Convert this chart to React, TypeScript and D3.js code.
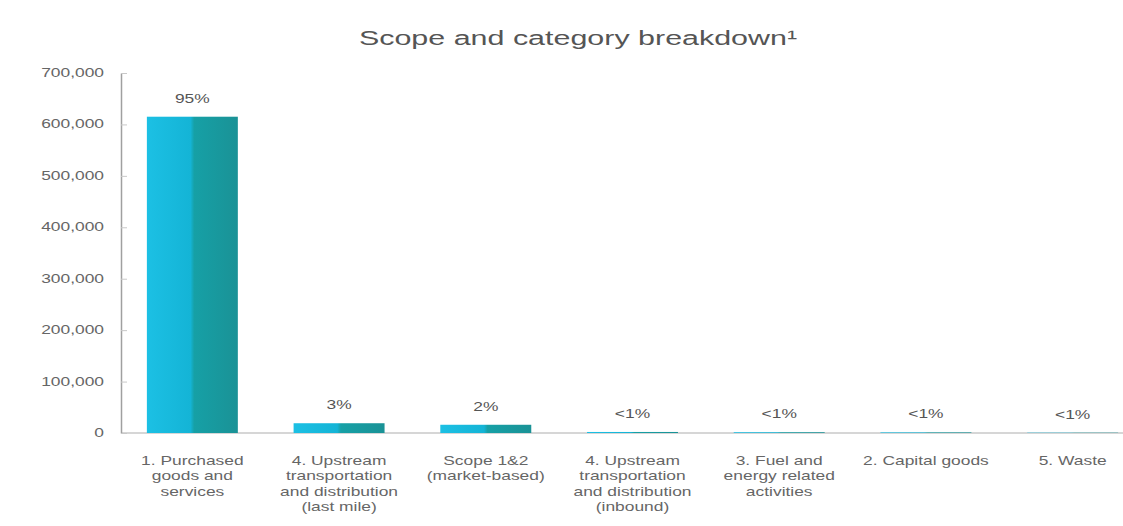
import { useEffect, useRef } from 'react'
import * as d3 from 'd3'

const categories = [
  '1. Purchased goods and services',
  '4. Upstream transportation and distribution (last mile)',
  'Scope 1&2 (market-based)',
  '4. Upstream transportation and distribution (inbound)',
  '3. Fuel and energy related activities',
  '2. Capital goods',
  '5. Waste',
]
const emissions = [615000, 19000, 16000, 2000, 1500, 1200, 600]
const shareLabels = ['95%', '3%', '2%', '<1%', '<1%', '<1%', '<1%']
const yTicks = [0, 100000, 200000, 300000, 400000, 500000, 600000, 700000]

const W = 1123
const H = 526
const M = { top: 73, left: 121, bottom: 433 }
// the source picture is stretched sideways, so its text is too
const SX = 1.45
const FONT = 'Liberation Sans, Arial, sans-serif'

function wrap(text: string, maxWidth: number, font: string) {
  const ctx = document.createElement('canvas').getContext('2d')!
  ctx.font = font
  const words = text.split(' ')
  const lines: string[] = []
  let cur = ''
  for (const w of words) {
    const test = cur ? cur + ' ' + w : w
    if (ctx.measureText(test).width > maxWidth && cur) {
      lines.push(cur)
      cur = w
    } else cur = test
  }
  if (cur) lines.push(cur)
  return lines
}

export default function App() {
  const ref = useRef<SVGSVGElement>(null)

  useEffect(() => {
    if (!ref.current) return
    const svg = d3.select(ref.current)
    svg.selectAll('*').remove()

    const x = d3.scaleBand<string>()
      .domain(categories)
      .range([119, 1146])
      .paddingInner(0.38)
      .paddingOuter(0.19)
    const y = d3.scaleLinear().domain([0, 700000]).range([M.bottom, M.top])

    const defs = svg.append('defs')
    const grad = defs.append('linearGradient').attr('id', 'barGrad')
      .attr('x1', '0').attr('x2', '1').attr('y1', '0').attr('y2', '0')
    grad.append('stop').attr('offset', '0%').attr('stop-color', '#1cc0e4')
    grad.append('stop').attr('offset', '48%').attr('stop-color', '#14b4d6')
    grad.append('stop').attr('offset', '52%').attr('stop-color', '#16a0a6')
    grad.append('stop').attr('offset', '100%').attr('stop-color', '#1a9296')

    const stretched = (g: d3.Selection<SVGGElement, unknown, null, undefined>, px: number, py: number) =>
      g.append('text').attr('transform', `translate(${px},${py}) scale(${SX},1)`).attr('font-family', FONT)

    stretched(svg as any, 578, 45)
      .attr('text-anchor', 'middle')
      .attr('font-size', 21)
      .attr('fill', '#555')
      .text('Scope and category breakdown¹')

    // baseline
    svg.append('line')
      .attr('x1', M.left).attr('x2', W)
      .attr('y1', y(0)).attr('y2', y(0))
      .attr('stroke', '#c8c8c8').attr('stroke-width', 1.5)

    const yAxis = svg.append('g')
      .attr('transform', `translate(${M.left},0)`)
      .call(d3.axisLeft(y).tickValues(yTicks).tickFormat(() => '').tickSizeInner(-6).tickSizeOuter(0))
    yAxis.select('.domain').attr('stroke', '#a0a0a0').attr('stroke-width', 1.5)
    yAxis.selectAll('.tick line').attr('stroke', '#c8c8c8')

    const fmt = d3.format(',')
    const tickG = svg.append('g')
    yTicks.forEach(t => {
      stretched(tickG as any, 104, y(t) + 4)
        .attr('text-anchor', 'end')
        .attr('font-size', 12)
        .attr('fill', '#666')
        .text(fmt(t))
    })

    svg.append('g').selectAll('rect')
      .data(categories)
      .join('rect')
      .attr('x', d => x(d)!)
      .attr('width', x.bandwidth())
      .attr('y', (_, i) => y(emissions[i]))
      .attr('height', (_, i) => y(0) - y(emissions[i]))
      .attr('fill', 'url(#barGrad)')

    const pctG = svg.append('g')
    categories.forEach((c, i) => {
      stretched(pctG as any, x(c)! + x.bandwidth() / 2, y(emissions[i]) - 14)
        .attr('text-anchor', 'middle')
        .attr('font-size', 12)
        .attr('fill', '#555')
        .text(shareLabels[i])
    })

    const font = `12px ${FONT}`
    const labels = svg.append('g')
    categories.forEach(c => {
      const lines = wrap(c, 95, font)
      const t = stretched(labels as any, x(c)! + x.bandwidth() / 2, 465)
        .attr('text-anchor', 'middle')
        .attr('font-size', 12)
        .attr('fill', '#666')
      lines.forEach((l, i) => {
        t.append('tspan')
          .attr('x', 0)
          .attr('dy', i === 0 ? 0 : 15.5)
          .text(l)
      })
    })
  }, [])

  return (
    <svg
      ref={ref}
      width={W}
      height={H}
      style={{ position: 'absolute', left: 0, top: 0, background: '#fff' }}
    />
  )
}
